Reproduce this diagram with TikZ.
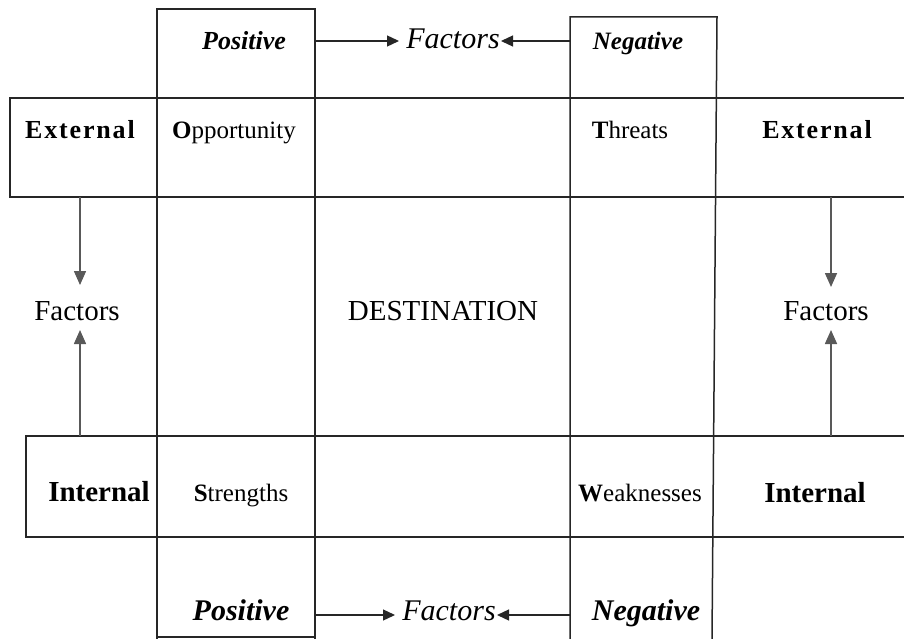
\documentclass[tikz,border=0pt]{standalone}
\usepackage{fontspec}
\setmainfont{Liberation Serif}
\newfontfamily\trackfont[LetterSpace=7]{Liberation Serif}
\usetikzlibrary{arrows.meta}
\tikzset{
  frame/.style={line width=1.5pt, draw=black!85},
  conn/.style={line width=1.6pt, draw=black!65, -{Triangle[length=14pt,width=12pt]}},
  hconn/.style={line width=1.3pt, draw=black!85, -{Triangle[length=12pt,width=11pt]}},
  lbl/.style={anchor=base, inner sep=0pt, text=black},
}
\newcommand{\fsz}[1]{\fontsize{#1}{#1}\selectfont}
\begin{document}
\begin{tikzpicture}[x=1pt,y=-1pt]
\useasboundingbox (0,0) rectangle (904,639);
% frames
\draw[frame] (10,98) rectangle (157,197);
\draw[frame] (157,98) -- (904,98);
\draw[frame] (157,197) -- (904,197);
\draw[frame] (26,436) rectangle (157,537);
\draw[frame] (157,436) -- (904,436);
\draw[frame] (157,537) -- (904,537);
\draw[frame] (157,639) -- (157,9) -- (315,9) -- (315,639);
\draw[frame] (157,637) -- (315,637);
\draw[frame] (570,639) -- (570,17) -- (717,17) -- (712,639);
% labels
\node[lbl] (extL) at (80,139) {\trackfont\bfseries\fsz{26}External};
\node[lbl] (extR) at (817,139) {\trackfont\bfseries\fsz{26}External};
\node[lbl] (opp) at (234,139) {\fsz{25}\textbf{O}pportunity};
\node[lbl] (thr) at (630,139) {\fsz{25}\textbf{T}hreats};
\node[lbl] (dest) at (443,320) {\fsz{29}DESTINATION};
\node[lbl] (facL) at (77,320) {\fsz{29}Factors};
\node[lbl] (facR) at (826,320) {\fsz{29}Factors};
\node[lbl] (intL) at (99,501) {\bfseries\fsz{29}Internal};
\node[lbl] (intR) at (815,502) {\bfseries\fsz{29}Internal};
\node[lbl] (str) at (241,501) {\fsz{25}\textbf{S}trengths};
\node[lbl] (wea) at (640,501) {\fsz{25}\textbf{W}eaknesses};
\node[lbl] (posT) at (244,50) {\bfseries\itshape\fsz{26}Positive};
\node[lbl] (negT) at (638,50) {\bfseries\itshape\fsz{25}Negative};
\node[lbl] (facT) at (453,49) {\itshape\fsz{30}Factors};
\node[lbl] (posB) at (241,620) {\bfseries\itshape\fsz{30}Positive};
\node[lbl] (negB) at (646,620) {\bfseries\itshape\fsz{30}Negative};
\node[lbl] (facB) at (449,620) {\itshape\fsz{30}Factors};
% connector coordinates
\coordinate (a1s) at (80,197);  \coordinate (a1e) at (80,285);
\coordinate (a2s) at (80,436);  \coordinate (a2e) at (80,330);
\coordinate (a3s) at (831,197); \coordinate (a3e) at (831,287);
\coordinate (a4s) at (831,436); \coordinate (a4e) at (831,330);
\coordinate (t1s) at (315,41);  \coordinate (t1e) at (399,41);
\coordinate (t2s) at (570,41);  \coordinate (t2e) at (501,41);
\coordinate (b1s) at (315,615); \coordinate (b1e) at (395,615);
\coordinate (b2s) at (570,615); \coordinate (b2e) at (497,615);
\draw[conn] (a1s) -- (a1e);
\draw[conn] (a2s) -- (a2e);
\draw[conn] (a3s) -- (a3e);
\draw[conn] (a4s) -- (a4e);
\draw[hconn] (t1s) -- (t1e);
\draw[hconn] (t2s) -- (t2e);
\draw[hconn] (b1s) -- (b1e);
\draw[hconn] (b2s) -- (b2e);
\end{tikzpicture}
\end{document}
